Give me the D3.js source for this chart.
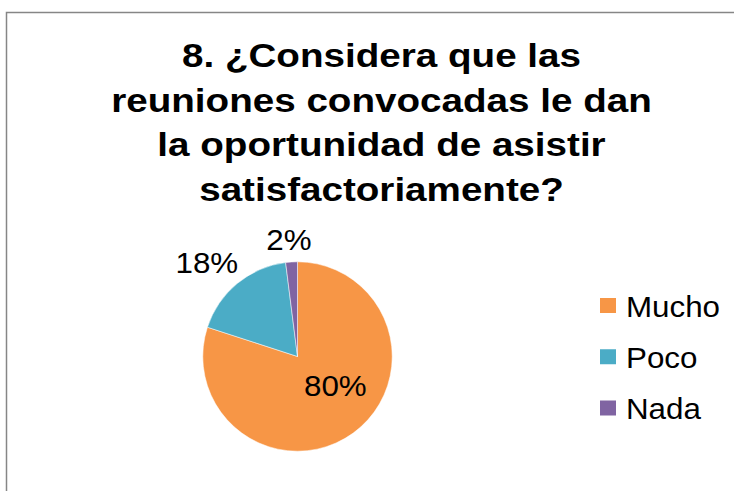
<!DOCTYPE html>
<html>
<head>
<meta charset="utf-8">
<script src="https://cdn.jsdelivr.net/npm/d3@7"></script>
<style>
  html, body { margin: 0; padding: 0; background: #fff; }
  svg { display: block; }
  text { font-family: "Liberation Sans", Arial, sans-serif; }
</style>
</head>
<body>
<svg id="chart" width="734" height="491"></svg>
<script>
const titleLines = ["8. ¿Considera que las", "reuniones convocadas le dan", "la oportunidad de asistir", "satisfactoriamente?"];
const categories = ["Mucho", "Poco", "Nada"];
const values = [80, 18, 2];
const labels = ["80%", "18%", "2%"];
const colors = ["#F79646", "#4BACC6", "#8064A2"];

const W = 734, H = 491;
const svg = d3.select("#chart");

// outer chart border (extends past the window on right/bottom)
svg.append("rect")
  .attr("x", 6.5).attr("y", 12.5)
  .attr("width", W + 20).attr("height", H + 20)
  .attr("fill", "#fff")
  .attr("stroke", "#868686")
  .attr("stroke-width", 1.5);

// title (reference glyphs are horizontally wider)
const title = svg.append("text")
  .attr("transform", "translate(381.5,0) scale(1.17,1)")
  .attr("text-anchor", "middle")
  .attr("font-weight", "bold")
  .attr("font-size", 33)
  .attr("fill", "#000");
titleLines.forEach((t, i) => {
  title.append("tspan")
    .attr("x", 0)
    .attr("y", 67 + i * 44.6)
    .text(t);
});

const sxText = 1.08;

// pie
const cx = 297.5, cy = 356.5, R = 94.7;
const pie = d3.pie().sort(null).value(d => d)(values);
const arc = d3.arc().innerRadius(0).outerRadius(R);
const g = svg.append("g").attr("transform", `translate(${cx},${cy})`);
g.selectAll("path.slice")
  .data(pie)
  .join("path")
  .attr("class", "slice")
  .attr("d", arc)
  .attr("fill", (d, i) => colors[i])
  .attr("stroke", "#fff")
  .attr("stroke-width", 0.5);

// data labels
const fs = 29;
pie.forEach((d, i) => {
  const mid = (d.startAngle + d.endAngle) / 2;
  const sx = Math.sin(mid), sy = -Math.cos(mid);
  let x, y;
  if (d.endAngle - d.startAngle > Math.PI) {
    const c = arc.centroid(d);
    x = c[0] + 10; y = c[1] - 9;
  } else {
    const r = R + 7;
    const px = sx * r, py = sy * r;
    const halfW = labels[i].length * fs * 0.55 * sxText / 2;
    const clamp = v => Math.max(-1, Math.min(1, v));
    x = px + halfW * clamp(sx * 2);
    y = py + 15.5 * clamp(sy * 2);
  }
  g.append("text")
    .attr("transform", `translate(${x},${y}) scale(${sxText},1)`)
    .attr("dy", "0.35em")
    .attr("text-anchor", "middle")
    .attr("font-size", fs)
    .attr("fill", "#000")
    .text(labels[i]);
});

// legend
const leg = svg.append("g");
const legY = d3.scalePoint().domain(categories).range([305.5, 408]);
categories.forEach((c, i) => {
  const y = legY(c);
  leg.append("rect")
    .attr("x", 600).attr("y", y - 7.5)
    .attr("width", 16).attr("height", 15)
    .attr("fill", colors[i]);
  leg.append("text")
    .attr("transform", `translate(626,${y + 11}) scale(${sxText},1)`)
    .attr("font-size", 29)
    .attr("fill", "#000")
    .text(c);
});
</script>
</body>
</html>
